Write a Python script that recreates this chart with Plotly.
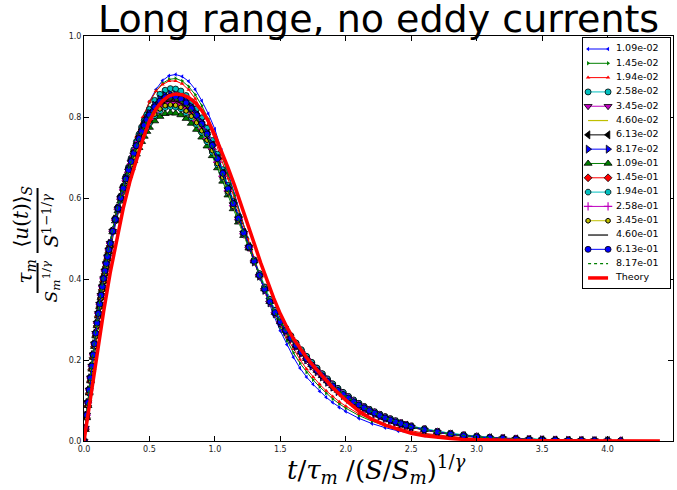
import plotly.graph_objects as go

# ---------------- data ----------------
# coarse grid (series with few samples)
X = [0.00, 0.05, 0.10, 0.15, 0.20, 0.25, 0.30, 0.35, 0.40, 0.45,
     0.50, 0.55, 0.60, 0.65, 0.70, 0.75, 0.80, 0.85, 0.90, 0.95,
     1.00, 1.05, 1.10, 1.15, 1.20, 1.25, 1.30, 1.35, 1.40, 1.45,
     1.50, 1.55, 1.60, 1.65, 1.70, 1.75, 1.80, 1.85, 1.90, 1.95,
     2.00, 2.1, 2.2, 2.3, 2.4, 2.5, 2.6, 2.7, 2.8, 2.9,
     3.0, 3.1, 3.2, 3.3, 3.4, 3.5, 3.6, 3.7, 3.8, 3.9, 4.0, 4.1]

# dense grid (series with many samples)
XD = [0.00, 0.01, 0.02, 0.03, 0.04, 0.05, 0.06, 0.07, 0.08, 0.09, 0.10,
      0.11, 0.12, 0.13, 0.14, 0.15, 0.16, 0.17, 0.18, 0.19, 0.20,
      0.22, 0.24, 0.26, 0.28, 0.30, 0.32, 0.34, 0.36, 0.38, 0.40,
      0.42, 0.44, 0.46, 0.48, 0.50,
      0.54, 0.58, 0.62, 0.66, 0.70, 0.74, 0.78, 0.82, 0.86, 0.90,
      0.94, 0.98, 1.02, 1.06, 1.10, 1.14, 1.18, 1.22, 1.26,
      1.30, 1.34, 1.38, 1.42, 1.46, 1.50, 1.54, 1.58, 1.62, 1.66,
      1.70, 1.74, 1.78, 1.82, 1.86, 1.90, 1.94, 1.98, 2.02, 2.06,
      2.10, 2.14, 2.18, 2.22, 2.26, 2.30, 2.34, 2.38, 2.42, 2.46, 2.50,
      2.6, 2.7, 2.8, 2.9, 3.0, 3.1, 3.2, 3.3, 3.4, 3.5, 3.6, 3.7, 3.8, 3.9, 4.0, 4.1]

X_THEORY = X + [4.2, 4.3, 4.4]

LABELS = ["1.09e-02", "1.45e-02", "1.94e-02", "2.58e-02", "3.45e-02", "4.60e-02",
          "6.13e-02", "8.17e-02", "1.09e-01", "1.45e-01", "1.94e-01", "2.58e-01",
          "3.45e-01", "4.60e-01", "6.13e-01", "8.17e-01"]
THEORY_LABEL = "Theory"

S01 = [0, 0.130, 0.265, 0.375, 0.470, 0.550, 0.620, 0.685, 0.745, 0.795,
       0.838, 0.868, 0.890, 0.902, 0.905, 0.900, 0.888, 0.868, 0.840, 0.808,
       0.770, 0.718, 0.665, 0.610, 0.555, 0.500, 0.447, 0.398, 0.352, 0.310,
       0.272, 0.238, 0.207, 0.180, 0.158, 0.140, 0.123, 0.108, 0.095, 0.083,
       0.073, 0.056, 0.043, 0.033, 0.025, 0.019, 0.014, 0.010, 0.008, 0.006,
       0.004, 0.003, 0.002, 0.0015, 0.001, 0.001, 0.0005, None, None, None, None, None]
S02 = [0, 0.140, 0.275, 0.385, 0.478, 0.558, 0.628, 0.690, 0.748, 0.797,
       0.836, 0.864, 0.883, 0.893, 0.895, 0.889, 0.875, 0.855, 0.828, 0.795,
       0.756, 0.708, 0.658, 0.606, 0.553, 0.500, 0.449, 0.401, 0.357, 0.317,
       0.281, 0.248, 0.218, 0.192, 0.170, 0.151, 0.134, 0.118, 0.104, 0.092,
       0.081, 0.063, 0.049, 0.038, 0.029, 0.022, 0.017, 0.013, 0.010, 0.007,
       0.005, 0.004, 0.003, 0.002, 0.0015, 0.001, 0.001, 0.0005, None, None, None, None]
S03 = [0, 0.145, 0.280, 0.390, 0.482, 0.562, 0.632, 0.695, 0.752, 0.800,
       0.838, 0.864, 0.880, 0.889, 0.889, 0.882, 0.867, 0.845, 0.817, 0.783,
       0.743, 0.697, 0.648, 0.598, 0.548, 0.498, 0.450, 0.404, 0.362, 0.323,
       0.288, 0.256, 0.227, 0.201, 0.178, 0.158, 0.140, 0.124, 0.110, 0.097,
       0.086, 0.067, 0.052, 0.041, 0.032, 0.025, 0.019, 0.015, 0.011, 0.008,
       0.006, 0.005, 0.004, 0.003, 0.002, 0.0015, 0.001, 0.001, 0.0005, None, None, None]

S04 = [0, 0.032, 0.064, 0.095, 0.126, 0.156, 0.185, 0.213, 0.240, 0.266, 0.291,
       0.315, 0.338, 0.360, 0.381, 0.401, 0.420, 0.438, 0.455, 0.472, 0.488,
       0.519, 0.549, 0.577, 0.604, 0.629, 0.653, 0.676, 0.698, 0.719, 0.739,
       0.757, 0.775, 0.791, 0.806, 0.819,
       0.841, 0.856, 0.866, 0.870, 0.869, 0.864, 0.853, 0.838, 0.820, 0.798,
       0.772, 0.742, 0.708, 0.670, 0.631, 0.592, 0.555, 0.517, 0.481,
       0.447, 0.413, 0.380, 0.350, 0.323, 0.300, 0.279, 0.260, 0.242, 0.225,
       0.209, 0.194, 0.180, 0.166, 0.153, 0.141, 0.130, 0.120, 0.110, 0.101,
       0.093, 0.085, 0.078, 0.072, 0.066, 0.060, 0.055, 0.050, 0.045, 0.041, 0.037,
       0.030, 0.024, 0.019, 0.015, 0.012, 0.009, 0.007, 0.0055, 0.0045, 0.0035, 0.003, 0.0025, 0.002, 0.0015, 0.001, 0.0005]
S05 = [0, 0.032, 0.064, 0.095, 0.126, 0.156, 0.185, 0.213, 0.240, 0.266, 0.291,
       0.315, 0.338, 0.360, 0.381, 0.401, 0.420, 0.438, 0.455, 0.472, 0.488,
       0.518, 0.546, 0.573, 0.599, 0.622, 0.645, 0.667, 0.688, 0.707, 0.726,
       0.744, 0.760, 0.775, 0.789, 0.800,
       0.820, 0.833, 0.842, 0.845, 0.844, 0.839, 0.829, 0.816, 0.799, 0.778,
       0.754, 0.726, 0.694, 0.658, 0.621, 0.584, 0.549, 0.513, 0.479,
       0.442, 0.407, 0.372, 0.341, 0.314, 0.291, 0.270, 0.251, 0.233, 0.216,
       0.200, 0.185, 0.171, 0.158, 0.145, 0.133, 0.122, 0.112, 0.103, 0.094,
       0.086, 0.079, 0.073, 0.067, 0.061, 0.055, 0.050, 0.046, 0.042, 0.038, 0.034,
       0.027, 0.021, 0.016, 0.012, 0.009, 0.007, 0.006, 0.0045, 0.0035, 0.003, 0.002, 0.0015, 0.001, 0.001, 0.0005, None]
S06 = [0, 0.032, 0.064, 0.095, 0.126, 0.156, 0.185, 0.213, 0.240, 0.266, 0.291,
       0.315, 0.338, 0.360, 0.381, 0.401, 0.420, 0.438, 0.455, 0.472, 0.488,
       0.518, 0.547, 0.574, 0.599, 0.623, 0.646, 0.668, 0.689, 0.709, 0.728,
       0.745, 0.762, 0.777, 0.791, 0.803,
       0.822, 0.836, 0.845, 0.848, 0.847, 0.842, 0.832, 0.818, 0.801, 0.781,
       0.756, 0.728, 0.695, 0.660, 0.622, 0.585, 0.549, 0.514, 0.479,
       0.442, 0.407, 0.372, 0.341, 0.314, 0.291, 0.270, 0.251, 0.233, 0.216,
       0.200, 0.185, 0.171, 0.158, 0.145, 0.133, 0.122, 0.112, 0.103, 0.094,
       0.086, 0.079, 0.073, 0.067, 0.061, 0.055, 0.050, 0.046, 0.042, 0.038, 0.034,
       0.027, 0.021, 0.016, 0.012, 0.009, 0.007, 0.006, 0.0045, 0.0035, 0.003, 0.002, 0.0015, 0.001, 0.001, 0.0005, None]
S07 = [0, 0.034, 0.067, 0.099, 0.130, 0.160, 0.189, 0.217, 0.244, 0.270, 0.295,
       0.319, 0.342, 0.364, 0.385, 0.405, 0.424, 0.442, 0.459, 0.476, 0.492,
       0.523, 0.552, 0.579, 0.605, 0.629, 0.652, 0.674, 0.695, 0.715, 0.734,
       0.752, 0.769, 0.784, 0.798, 0.810,
       0.829, 0.842, 0.850, 0.852, 0.851, 0.846, 0.836, 0.822, 0.805, 0.784,
       0.759, 0.731, 0.698, 0.662, 0.624, 0.587, 0.551, 0.515, 0.480,
       0.444, 0.409, 0.375, 0.344, 0.317, 0.294, 0.273, 0.254, 0.236, 0.219,
       0.203, 0.188, 0.174, 0.161, 0.148, 0.136, 0.125, 0.115, 0.106, 0.097,
       0.089, 0.082, 0.075, 0.069, 0.063, 0.057, 0.052, 0.047, 0.043, 0.039, 0.035,
       0.028, 0.022, 0.017, 0.013, 0.010, 0.008, 0.0065, 0.005, 0.004, 0.003, 0.0025, 0.002, 0.0015, 0.001, 0.001, 0.0005]
S08 = [0, 0.032, 0.064, 0.095, 0.126, 0.156, 0.185, 0.213, 0.240, 0.266, 0.291,
       0.315, 0.338, 0.360, 0.381, 0.401, 0.420, 0.438, 0.455, 0.472, 0.488,
       0.518, 0.548, 0.575, 0.601, 0.625, 0.649, 0.671, 0.692, 0.712, 0.732,
       0.750, 0.767, 0.782, 0.797, 0.809,
       0.829, 0.844, 0.853, 0.856, 0.855, 0.850, 0.840, 0.826, 0.808, 0.787,
       0.762, 0.733, 0.700, 0.663, 0.625, 0.588, 0.551, 0.515, 0.479,
       0.442, 0.407, 0.372, 0.341, 0.314, 0.291, 0.270, 0.251, 0.233, 0.216,
       0.200, 0.185, 0.171, 0.158, 0.145, 0.133, 0.122, 0.112, 0.103, 0.094,
       0.086, 0.079, 0.073, 0.067, 0.061, 0.055, 0.050, 0.046, 0.042, 0.038, 0.034,
       0.027, 0.021, 0.016, 0.012, 0.009, 0.007, 0.006, 0.0045, 0.0035, 0.003, 0.002, 0.0015, 0.001, 0.001, 0.0005, None]
S09 = [0, 0.028, 0.057, 0.087, 0.118, 0.148, 0.177, 0.206, 0.233, 0.259, 0.284,
       0.308, 0.331, 0.353, 0.374, 0.394, 0.413, 0.431, 0.449, 0.466, 0.482,
       0.516, 0.543, 0.568, 0.592, 0.614, 0.635, 0.655, 0.674, 0.692, 0.708,
       0.724, 0.739, 0.752, 0.764, 0.774,
       0.790, 0.801, 0.808, 0.810, 0.809, 0.805, 0.796, 0.784, 0.769, 0.750,
       0.728, 0.704, 0.674, 0.641, 0.607, 0.573, 0.540, 0.507, 0.476,
       0.444, 0.409, 0.375, 0.344, 0.317, 0.294, 0.273, 0.254, 0.236, 0.219,
       0.203, 0.188, 0.174, 0.161, 0.148, 0.136, 0.125, 0.115, 0.106, 0.097,
       0.089, 0.082, 0.075, 0.069, 0.063, 0.057, 0.052, 0.047, 0.043, 0.039, 0.035,
       0.028, 0.022, 0.017, 0.013, 0.010, 0.008, 0.0065, 0.005, 0.004, 0.003, 0.0025, 0.002, 0.0015, 0.001, 0.001, 0.0005]
S10 = [0, 0.028, 0.057, 0.087, 0.118, 0.148, 0.177, 0.206, 0.233, 0.259, 0.284,
       0.308, 0.331, 0.353, 0.374, 0.394, 0.413, 0.431, 0.449, 0.466, 0.482,
       0.517, 0.545, 0.572, 0.597, 0.620, 0.642, 0.663, 0.684, 0.703, 0.721,
       0.738, 0.754, 0.769, 0.782, 0.793,
       0.811, 0.824, 0.832, 0.835, 0.834, 0.829, 0.820, 0.807, 0.790, 0.770,
       0.746, 0.720, 0.688, 0.653, 0.617, 0.581, 0.546, 0.511, 0.478,
       0.444, 0.409, 0.375, 0.344, 0.317, 0.294, 0.273, 0.254, 0.236, 0.219,
       0.203, 0.188, 0.174, 0.161, 0.148, 0.136, 0.125, 0.115, 0.106, 0.097,
       0.089, 0.082, 0.075, 0.069, 0.063, 0.057, 0.052, 0.047, 0.043, 0.039, 0.035,
       0.028, 0.022, 0.017, 0.013, 0.010, 0.008, 0.0065, 0.005, 0.004, 0.003, 0.0025, 0.002, 0.0015, 0.001, 0.001, 0.0005]
S11 = [0, 0.032, 0.064, 0.095, 0.126, 0.156, 0.185, 0.213, 0.240, 0.266, 0.291,
       0.315, 0.338, 0.360, 0.381, 0.401, 0.420, 0.438, 0.455, 0.472, 0.488,
       0.517, 0.544, 0.570, 0.595, 0.617, 0.639, 0.660, 0.680, 0.698, 0.716,
       0.733, 0.748, 0.762, 0.775, 0.785,
       0.803, 0.815, 0.823, 0.825, 0.824, 0.820, 0.810, 0.798, 0.782, 0.762,
       0.739, 0.713, 0.682, 0.649, 0.613, 0.578, 0.544, 0.510, 0.477,
       0.447, 0.413, 0.380, 0.350, 0.323, 0.300, 0.279, 0.260, 0.242, 0.225,
       0.209, 0.194, 0.180, 0.166, 0.153, 0.141, 0.130, 0.120, 0.110, 0.101,
       0.093, 0.085, 0.078, 0.072, 0.066, 0.060, 0.055, 0.050, 0.045, 0.041, 0.037,
       0.030, 0.024, 0.019, 0.015, 0.012, 0.009, 0.007, 0.0055, 0.0045, 0.0035, 0.003, 0.0025, 0.002, 0.0015, 0.001, 0.0005]
S12 = [0, 0.032, 0.064, 0.095, 0.126, 0.156, 0.185, 0.213, 0.240, 0.266, 0.291,
       0.315, 0.338, 0.360, 0.381, 0.401, 0.420, 0.438, 0.455, 0.472, 0.488,
       0.518, 0.546, 0.573, 0.598, 0.621, 0.643, 0.664, 0.685, 0.704, 0.722,
       0.739, 0.755, 0.770, 0.783, 0.794,
       0.812, 0.825, 0.833, 0.836, 0.835, 0.830, 0.821, 0.808, 0.791, 0.771,
       0.747, 0.721, 0.689, 0.654, 0.618, 0.582, 0.547, 0.512, 0.478,
       0.444, 0.409, 0.375, 0.344, 0.317, 0.294, 0.273, 0.254, 0.236, 0.219,
       0.203, 0.188, 0.174, 0.161, 0.148, 0.136, 0.125, 0.115, 0.106, 0.097,
       0.089, 0.082, 0.075, 0.069, 0.063, 0.057, 0.052, 0.047, 0.043, 0.039, 0.035,
       0.028, 0.022, 0.017, 0.013, 0.010, 0.008, 0.0065, 0.005, 0.004, 0.003, 0.0025, 0.002, 0.0015, 0.001, 0.001, 0.0008]
S13 = [0, 0.028, 0.057, 0.087, 0.118, 0.148, 0.177, 0.206, 0.233, 0.259, 0.284,
       0.308, 0.331, 0.353, 0.374, 0.394, 0.413, 0.431, 0.449, 0.466, 0.482,
       0.517, 0.545, 0.571, 0.596, 0.619, 0.641, 0.662, 0.682, 0.701, 0.718,
       0.735, 0.751, 0.765, 0.778, 0.789,
       0.807, 0.820, 0.828, 0.830, 0.829, 0.824, 0.815, 0.802, 0.786, 0.766,
       0.743, 0.717, 0.685, 0.651, 0.615, 0.579, 0.545, 0.511, 0.477,
       0.444, 0.409, 0.375, 0.344, 0.317, 0.294, 0.273, 0.254, 0.236, 0.219,
       0.203, 0.188, 0.174, 0.161, 0.148, 0.136, 0.125, 0.115, 0.106, 0.097,
       0.089, 0.082, 0.075, 0.069, 0.063, 0.057, 0.052, 0.047, 0.043, 0.039, 0.035,
       0.028, 0.022, 0.017, 0.013, 0.010, 0.008, 0.0065, 0.005, 0.004, 0.003, 0.0025, 0.002, 0.0015, 0.001, 0.001, 0.0005]
S14 = [0, 0.032, 0.064, 0.095, 0.126, 0.156, 0.185, 0.213, 0.240, 0.266, 0.291,
       0.315, 0.338, 0.360, 0.381, 0.401, 0.420, 0.438, 0.455, 0.472, 0.488,
       0.517, 0.546, 0.572, 0.598, 0.621, 0.644, 0.665, 0.686, 0.705, 0.723,
       0.741, 0.757, 0.772, 0.785, 0.797,
       0.816, 0.829, 0.837, 0.840, 0.839, 0.834, 0.825, 0.811, 0.795, 0.774,
       0.750, 0.723, 0.691, 0.656, 0.619, 0.582, 0.547, 0.512, 0.478,
       0.444, 0.409, 0.375, 0.344, 0.317, 0.294, 0.273, 0.254, 0.236, 0.219,
       0.203, 0.188, 0.174, 0.161, 0.148, 0.136, 0.125, 0.115, 0.106, 0.097,
       0.089, 0.082, 0.075, 0.069, 0.063, 0.057, 0.052, 0.047, 0.043, 0.039, 0.035,
       0.028, 0.022, 0.017, 0.013, 0.010, 0.008, 0.0065, 0.005, 0.004, 0.003, 0.0025, 0.002, 0.0015, 0.001, 0.001, 0.0005]
S15 = [0, 0.032, 0.064, 0.095, 0.126, 0.156, 0.185, 0.213, 0.240, 0.266, 0.291,
       0.315, 0.338, 0.360, 0.381, 0.401, 0.420, 0.438, 0.455, 0.472, 0.488,
       0.518, 0.547, 0.574, 0.600, 0.624, 0.647, 0.669, 0.690, 0.710, 0.729,
       0.747, 0.764, 0.779, 0.793, 0.805,
       0.825, 0.839, 0.848, 0.851, 0.850, 0.845, 0.835, 0.821, 0.804, 0.783,
       0.758, 0.730, 0.697, 0.661, 0.623, 0.586, 0.550, 0.514, 0.479,
       0.444, 0.409, 0.375, 0.344, 0.317, 0.294, 0.273, 0.254, 0.236, 0.219,
       0.203, 0.188, 0.174, 0.161, 0.148, 0.136, 0.125, 0.115, 0.106, 0.097,
       0.089, 0.082, 0.075, 0.069, 0.063, 0.057, 0.052, 0.047, 0.043, 0.039, 0.035,
       0.028, 0.022, 0.017, 0.013, 0.010, 0.008, 0.0065, 0.005, 0.004, 0.003, 0.0025, 0.002, 0.0015, 0.001, 0.001, 0.0005]
S16 = [0, 0.036, 0.071, 0.104, 0.136, 0.166, 0.195, 0.223, 0.250, 0.276, 0.300,
       0.324, 0.347, 0.369, 0.390, 0.410, 0.429, 0.447, 0.464, 0.480, 0.496,
       0.527, 0.555, 0.581, 0.606, 0.629, 0.651, 0.672, 0.692, 0.711, 0.729,
       0.746, 0.762, 0.777, 0.790, 0.801,
       0.820, 0.833, 0.842, 0.845, 0.844, 0.839, 0.829, 0.816, 0.799, 0.778,
       0.754, 0.726, 0.694, 0.658, 0.621, 0.584, 0.549, 0.513, 0.479,
       0.444, 0.409, 0.375, 0.344, 0.317, 0.294, 0.273, 0.254, 0.236, 0.219,
       0.203, 0.188, 0.174, 0.161, 0.148, 0.136, 0.125, 0.115, 0.106, 0.097,
       0.089, 0.082, 0.075, 0.069, 0.063, 0.057, 0.052, 0.047, 0.043, 0.039, 0.035,
       0.028, 0.022, 0.017, 0.013, 0.010, 0.008, 0.0065, 0.005, 0.004, 0.003, 0.0025, 0.002, 0.0015, 0.001, 0.001, 0.0005]

THEORY = [0, 0.110, 0.220, 0.320, 0.415, 0.500, 0.575, 0.640, 0.695, 0.745,
          0.790, 0.820, 0.840, 0.852, 0.857, 0.855, 0.848, 0.835, 0.816, 0.790,
          0.755, 0.716, 0.675, 0.631, 0.585, 0.537, 0.488, 0.440, 0.395, 0.352,
          0.314, 0.281, 0.253, 0.228, 0.206, 0.186, 0.167, 0.149, 0.132, 0.116,
          0.101, 0.074, 0.054, 0.039, 0.028, 0.019, 0.013, 0.009, 0.006, 0.004,
          0.003, 0.002, 0.0015, 0.001, 0.0007, 0.0005, 0.0003, 0.0002, 0.0001, 0.0001,
          0, 0, 0, 0, 0]

SERIES = [(X, S01), (X, S02), (X, S03), (XD, S04), (XD, S05), (XD, S06), (XD, S07), (XD, S08),
          (XD, S09), (XD, S10), (XD, S11), (XD, S12), (XD, S13), (XD, S14), (XD, S15), (XD, S16)]

X_TICKS = [0.0, 0.5, 1.0, 1.5, 2.0, 2.5, 3.0, 3.5, 4.0, 4.5]
Y_TICKS = [0.0, 0.2, 0.4, 0.6, 0.8, 1.0]

# ---------------- styles ----------------
B, G, R, C, M, Y, K = "#0000ff", "#008000", "#ff0000", "#00bfbf", "#bf00bf", "#bfbf00", "#000000"
STYLES = [
    dict(color=B, symbol="triangle-left", size=4, edge=0, dash="solid"),
    dict(color=G, symbol="triangle-right", size=4, edge=0, dash="solid"),
    dict(color=R, symbol="triangle-up", size=4, edge=0, dash="solid"),
    dict(color=C, symbol="circle", size=6, edge=0.8, dash="solid"),
    dict(color=M, symbol="triangle-down", size=7, edge=0.8, dash="solid"),
    dict(color=Y, symbol=None, size=0, edge=0, dash="solid"),
    dict(color=K, symbol="triangle-left", size=7, edge=0.8, dash="solid"),
    dict(color=B, symbol="triangle-right", size=7, edge=0.8, dash="solid"),
    dict(color=G, symbol="triangle-up", size=7, edge=0.8, dash="solid"),
    dict(color=R, symbol="diamond", size=6, edge=0.8, dash="solid"),
    dict(color=C, symbol="octagon", size=6, edge=0.8, dash="solid"),
    dict(color=M, symbol="cross-thin", size=6, edge=1.2, dash="solid"),
    dict(color=Y, symbol="hexagon", size=5, edge=1.0, dash="solid"),
    dict(color=K, symbol=None, size=0, edge=0, dash="solid"),
    dict(color=B, symbol="circle", size=6, edge=0.8, dash="solid"),
    dict(color=G, symbol=None, size=0, edge=0, dash="dot"),
]


def trace_style(st):
    if st["symbol"] is None:
        return dict(mode="lines", line=dict(color=st["color"], width=1.2, dash=st["dash"]))
    edge_col = st["color"] if st["symbol"] == "cross-thin" else "#000000"
    return dict(mode="lines+markers", line=dict(color=st["color"], width=1),
                marker=dict(symbol=st["symbol"], size=st["size"], color=st["color"],
                            line=dict(color=edge_col, width=st["edge"])))


fig = go.Figure()
for lab, (xs, ys), st in zip(LABELS, SERIES, STYLES):
    fig.add_trace(go.Scatter(x=xs, y=ys, name=lab, showlegend=False, **trace_style(st)))
THEORY_LINE = dict(color=R, width=3.5)
fig.add_trace(go.Scatter(x=X_THEORY, y=THEORY, mode="lines", name=THEORY_LABEL,
                         showlegend=False, line=THEORY_LINE))

# ---------------- geometry (pixels) ----------------
L, T, RGT, BOT = 83.5, 36, 673, 441
W, H = RGT - L, BOT - T


def px(p):
    return (p - L) / W


def py(p):
    return (BOT - p) / H


# legend box in pixels
LG_L, LG_R, LG_T, LG_B = 583, 670, 38, 288
LG_W, LG_H = LG_R - LG_L, LG_B - LG_T
ROW0, ROWSTEP = 11, 14.31
SAMPLE_X0, SAMPLE_X1, TEXT_X = 5, 25, 33

all_labels = LABELS + [THEORY_LABEL]
for i, (lab, st) in enumerate(zip(LABELS, STYLES)):
    yc = ROW0 + i * ROWSTEP
    fig.add_trace(go.Scatter(x=[SAMPLE_X0, SAMPLE_X1], y=[yc, yc], xaxis="x2", yaxis="y2",
                             showlegend=False, hoverinfo="skip", **trace_style(st)))
yc = ROW0 + len(LABELS) * ROWSTEP
fig.add_trace(go.Scatter(x=[SAMPLE_X0, SAMPLE_X1], y=[yc, yc], xaxis="x2", yaxis="y2", mode="lines",
                         showlegend=False, hoverinfo="skip", line=THEORY_LINE))
fig.add_trace(go.Scatter(x=[TEXT_X] * len(all_labels),
                         y=[ROW0 + i * ROWSTEP for i in range(len(all_labels))],
                         text=all_labels, mode="text", textposition="middle right",
                         textfont=dict(family="DejaVu Sans", size=9.5, color="black"),
                         xaxis="x2", yaxis="y2", showlegend=False, hoverinfo="skip", cliponaxis=False))

axis_common = dict(showline=True, linecolor="black", linewidth=1, mirror="ticks",
                   ticks="inside", ticklen=5, tickcolor="black", showgrid=False, zeroline=False,
                   tickfont=dict(family="DejaVu Sans", size=8, color="#222"))

fig.update_layout(
    width=677, height=490,
    margin=dict(l=L, r=677 - RGT, t=T, b=490 - BOT),
    paper_bgcolor="white", plot_bgcolor="white",
    xaxis=dict(range=[0, 4.5], tickvals=X_TICKS, ticktext=[f"{v:.1f}" for v in X_TICKS], **axis_common),
    yaxis=dict(range=[0, 1], tickvals=Y_TICKS, ticktext=[f"{v:.1f}" for v in Y_TICKS], **axis_common),
    xaxis2=dict(domain=[px(LG_L), px(LG_R)], range=[0, LG_W], anchor="y2", showline=True, mirror=True,
                linecolor="black", linewidth=1, showticklabels=False, ticks="", showgrid=False,
                zeroline=False, fixedrange=True),
    yaxis2=dict(domain=[py(LG_B), py(LG_T)], range=[LG_H, 0], anchor="x2", showline=True, mirror=True,
                linecolor="black", linewidth=1, showticklabels=False, ticks="", showgrid=False,
                zeroline=False, fixedrange=True),
    showlegend=False,
)

MATH = "DejaVu Serif"
ann = [
    dict(text="Long range, no eddy currents", x=0.5, y=py(19), xref="paper", yref="paper",
         xanchor="center", yanchor="middle", showarrow=False,
         font=dict(family="DejaVu Sans", size=38, color="black")),
    dict(text="<i>t</i>/<i>τ</i><sub><i>m</i></sub> /(<i>S</i>/<i>S</i><sub><i>m</i></sub>)<sup>1/<i>γ</i></sup>",
         x=px(376), y=py(469), xref="paper", yref="paper", xanchor="center", yanchor="middle",
         showarrow=False, font=dict(family=MATH, size=26, color="black")),
    dict(text="⟨<i>u</i>(<i>t</i>)⟩<sub><i>S</i></sub>", x=px(21), y=py(217), xref="paper", yref="paper",
         xanchor="center", yanchor="middle", textangle=-90, showarrow=False,
         font=dict(family=MATH, size=20, color="black")),
    dict(text="<i>S</i><sup>1−1/<i>γ</i></sup>", x=px(50), y=py(221), xref="paper", yref="paper",
         xanchor="center", yanchor="middle", textangle=-90, showarrow=False,
         font=dict(family=MATH, size=19, color="black")),
    dict(text="<i>τ</i><sub><i>m</i></sub>", x=px(25), y=py(272), xref="paper", yref="paper",
         xanchor="center", yanchor="middle", textangle=-90, showarrow=False,
         font=dict(family=MATH, size=20, color="black")),
    dict(text="<i>S</i><sub><i>m</i></sub><sup>1/<i>γ</i></sup>", x=px(50), y=py(281), xref="paper", yref="paper",
         xanchor="center", yanchor="middle", textangle=-90, showarrow=False,
         font=dict(family=MATH, size=17, color="black")),
]
fig.update_layout(annotations=ann)

fig.add_shape(type="line", xref="paper", yref="paper", x0=px(37), x1=px(37), y0=py(188), y1=py(253),
              line=dict(color="black", width=2))
fig.add_shape(type="line", xref="paper", yref="paper", x0=px(37), x1=px(37), y0=py(263), y1=py(293),
              line=dict(color="black", width=2))

fig.write_html("out.html", config={"displayModeBar": False},
               post_script="document.body.style.margin='0px';")
